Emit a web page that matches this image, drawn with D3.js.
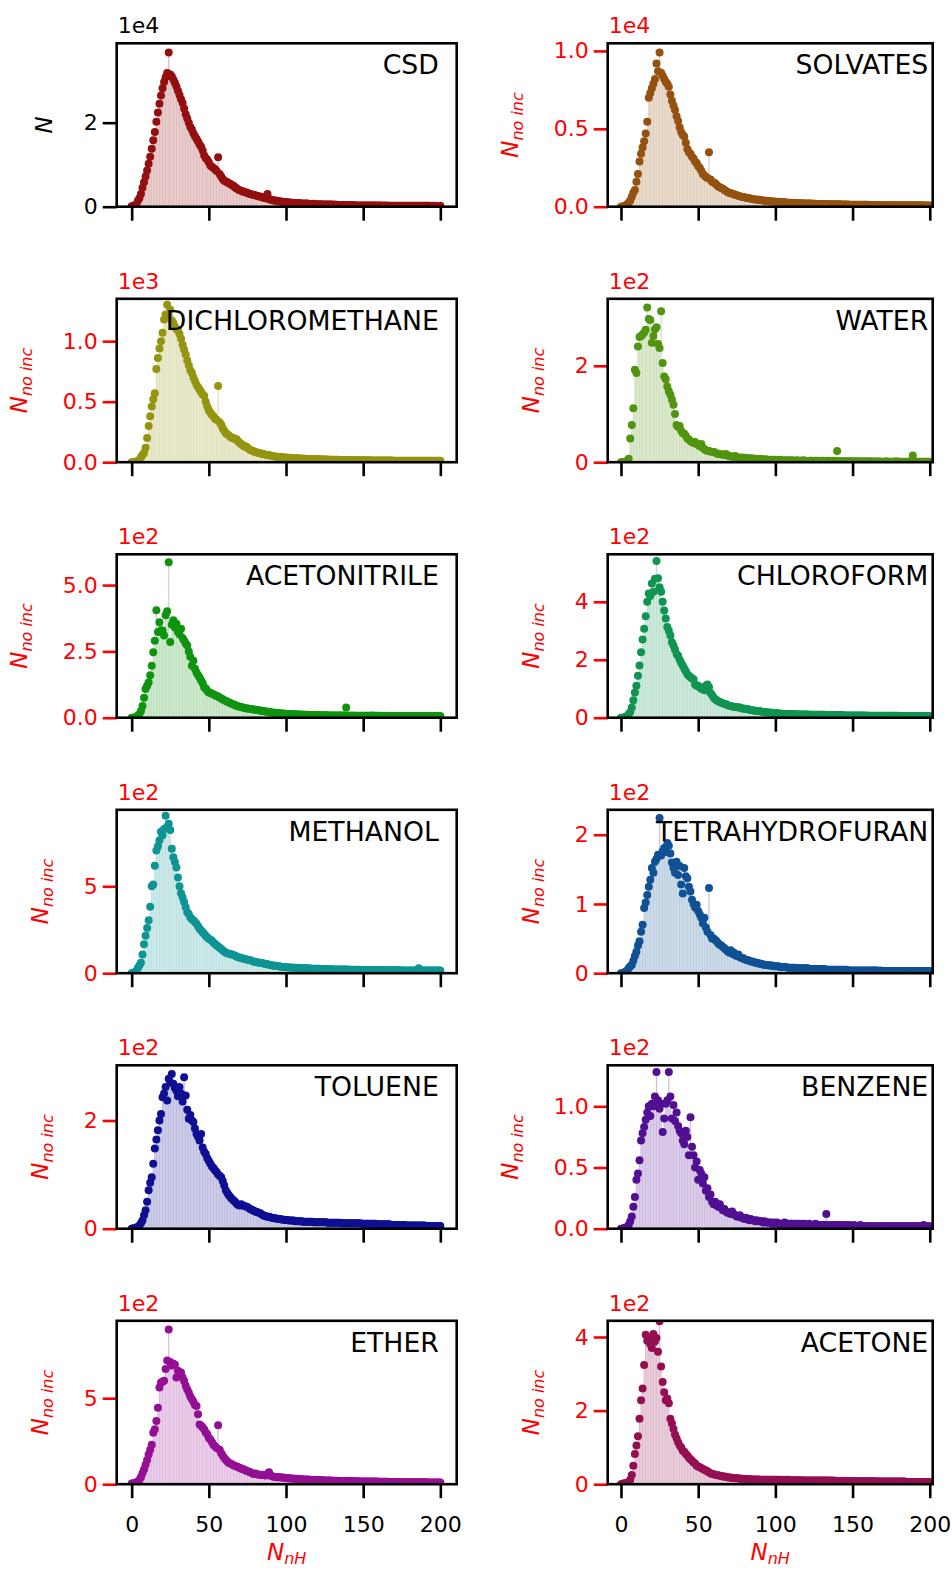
<!DOCTYPE html>
<html>
<head>
<meta charset="utf-8">
<script src="https://cdn.jsdelivr.net/npm/d3@7"></script>
<style>
  body { margin: 0; background: #fff; }
  svg text { font-family: "DejaVu Sans", sans-serif; }
</style>
</head>
<body>
<div id="chart"></div>
<script>
// panel names, colours, axis multipliers and tick values
const names = ['CSD', 'SOLVATES', 'DICHLOROMETHANE', 'WATER', 'ACETONITRILE', 'CHLOROFORM',
  'METHANOL', 'TETRAHYDROFURAN', 'TOLUENE', 'BENZENE', 'ETHER', 'ACETONE'];
const colors = ['#940f0f', '#94510f', '#94940f', '#51940f', '#0f940f', '#0f9451',
  '#0f9494', '#0f5194', '#0f0f94', '#510f94', '#940f94', '#940f51'];
const exponents = [4, 4, 3, 2, 2, 2, 2, 2, 2, 2, 2, 2];
const yTops = [3.89, 1.049, 1.35, 3.39, 6.16, 5.64, 9.4, 2.36, 3.02, 1.335, 9.5, 4.44];
const yTicks = [[0, 2], [0, 0.5, 1], [0, 0.5, 1], [0, 2], [0, 2.5, 5], [0, 2, 4],
  [0, 5], [0, 1, 2], [0, 2], [0, 0.5, 1], [0, 5], [0, 2, 4]];
const xTicks = [0, 50, 100, 150, 200];

// counts per N_nH = 0..200, in units of 10^exponent
const csd = [
  0.01, 0.02, 0.03, 0.06, 0.14, 0.2, 0.3, 0.45, 0.58, 0.72,
  0.86, 1.02, 1.19, 1.38, 1.58, 1.78, 2.02, 2.24, 2.45, 2.65,
  2.82, 2.97, 3.08, 3.18, 3.67, 3.15, 3.1, 3.03, 2.95, 2.86,
  2.76, 2.66, 2.56, 2.47, 2.34, 2.2, 2.1, 2.0, 1.9, 1.84,
  1.75, 1.68, 1.62, 1.55, 1.48, 1.43, 1.34, 1.22, 1.16, 1.12,
  1.06, 0.98, 0.95, 0.92, 0.89, 0.85, 1.18, 0.78, 0.72, 0.66,
  0.62, 0.6, 0.58, 0.56, 0.54, 0.51, 0.5, 0.46, 0.44, 0.41,
  0.39, 0.38, 0.36, 0.35, 0.34, 0.33, 0.31, 0.3, 0.29, 0.28,
  0.27, 0.26, 0.25, 0.24, 0.23, 0.22, 0.21, 0.2, 0.3, 0.18,
  0.17, 0.16, 0.15, 0.15, 0.14, 0.13, 0.13, 0.12, 0.12, 0.11,
  0.11, 0.1, 0.1, 0.1, 0.09, 0.09, 0.09, 0.08, 0.08, 0.08,
  0.08, 0.07, 0.07, 0.08, 0.07, 0.07, 0.06, 0.06, 0.07, 0.06,
  0.06, 0.06, 0.05, 0.06, 0.05, 0.05, 0.05, 0.05, 0.05, 0.05,
  0.05, 0.04, 0.05, 0.04, 0.04, 0.04, 0.04, 0.04, 0.04, 0.04,
  0.04, 0.04, 0.04, 0.03, 0.04, 0.03, 0.03, 0.03, 0.03, 0.03,
  0.03, 0.03, 0.03, 0.03, 0.03, 0.03, 0.03, 0.03, 0.03, 0.03,
  0.03, 0.03, 0.02, 0.03, 0.02, 0.03, 0.02, 0.02, 0.02, 0.02,
  0.02, 0.02, 0.02, 0.02, 0.02, 0.02, 0.02, 0.02, 0.02, 0.02,
  0.02, 0.02, 0.02, 0.02, 0.02, 0.02, 0.02, 0.02, 0.02, 0.02,
  0.02, 0.02, 0.02, 0.02, 0.01, 0.02, 0.01, 0.02, 0.01, 0.01,
  0.02];
const solvates = [
  0, 0.002, 0.004, 0.008, 0.015, 0.025, 0.04, 0.064, 0.09, 0.107,
  0.16, 0.21, 0.29, 0.34, 0.38, 0.42, 0.47, 0.545, 0.7, 0.73,
  0.76, 0.79, 0.82, 0.92, 0.87, 0.99, 0.86, 0.84, 0.82, 0.8,
  0.79, 0.77, 0.72, 0.68, 0.65, 0.62, 0.58, 0.55, 0.51, 0.48,
  0.46, 0.45, 0.41, 0.37, 0.35, 0.34, 0.32, 0.31, 0.29, 0.28,
  0.26, 0.25, 0.23, 0.21, 0.2, 0.19, 0.185, 0.35, 0.175, 0.16,
  0.155, 0.15, 0.14, 0.13, 0.125, 0.12, 0.115, 0.107, 0.1, 0.095,
  0.09, 0.087, 0.085, 0.08, 0.076, 0.073, 0.07, 0.067, 0.064, 0.062,
  0.06, 0.058, 0.056, 0.054, 0.052, 0.05, 0.048, 0.047, 0.046, 0.045,
  0.043, 0.042, 0.04, 0.039, 0.038, 0.037, 0.036, 0.035, 0.034, 0.033,
  0.032, 0.031, 0.03, 0.03, 0.029, 0.028, 0.028, 0.027, 0.026, 0.026,
  0.025, 0.025, 0.024, 0.024, 0.023, 0.023, 0.022, 0.022, 0.021, 0.021,
  0.021, 0.02, 0.02, 0.02, 0.019, 0.019, 0.019, 0.018, 0.018, 0.018,
  0.017, 0.017, 0.017, 0.017, 0.016, 0.016, 0.016, 0.016, 0.015, 0.015,
  0.015, 0.015, 0.015, 0.014, 0.014, 0.014, 0.014, 0.014, 0.013, 0.013,
  0.013, 0.013, 0.013, 0.013, 0.012, 0.012, 0.012, 0.012, 0.012, 0.012,
  0.012, 0.011, 0.011, 0.011, 0.011, 0.011, 0.011, 0.011, 0.011, 0.01,
  0.01, 0.01, 0.01, 0.01, 0.01, 0.01, 0.01, 0.01, 0.01, 0.01,
  0.01, 0.01, 0.01, 0.009, 0.01, 0.009, 0.009, 0.01, 0.009, 0.009,
  0.009, 0.009, 0.009, 0.009, 0.009, 0.008, 0.009, 0.008, 0.008, 0.008,
  0.008];
const dichloromethane = [
  0, 0, 0, 0.005, 0.01, 0.02, 0.04, 0.06, 0.075, 0.12,
  0.2, 0.3, 0.38, 0.46, 0.52, 0.57, 0.77, 0.86, 0.94, 1.0,
  1.07, 1.18, 1.22, 1.3, 1.21, 1.26, 1.17, 1.15, 1.12, 1.1,
  1.09, 1.06, 1.02, 0.97, 0.93, 0.89, 0.84, 0.8, 0.76, 0.74,
  0.7, 0.67, 0.64, 0.62, 0.6, 0.58, 0.56, 0.55, 0.5, 0.46,
  0.43, 0.41, 0.39, 0.38, 0.36, 0.35, 0.63, 0.33, 0.31, 0.28,
  0.26, 0.24, 0.23, 0.22, 0.21, 0.2, 0.2, 0.19, 0.19, 0.17,
  0.16, 0.15, 0.14, 0.13, 0.13, 0.12, 0.11, 0.1, 0.095, 0.09,
  0.085, 0.08, 0.078, 0.075, 0.07, 0.068, 0.065, 0.062, 0.06, 0.058,
  0.055, 0.052, 0.05, 0.048, 0.046, 0.045, 0.043, 0.042, 0.04, 0.039,
  0.038, 0.037, 0.036, 0.035, 0.034, 0.033, 0.033, 0.032, 0.031, 0.03,
  0.03, 0.029, 0.028, 0.028, 0.027, 0.027, 0.026, 0.026, 0.025, 0.025,
  0.024, 0.024, 0.024, 0.023, 0.023, 0.022, 0.022, 0.022, 0.021, 0.021,
  0.021, 0.02, 0.02, 0.02, 0.02, 0.019, 0.019, 0.019, 0.019, 0.018,
  0.018, 0.018, 0.018, 0.018, 0.017, 0.017, 0.017, 0.017, 0.017, 0.016,
  0.016, 0.016, 0.016, 0.016, 0.016, 0.015, 0.015, 0.015, 0.015, 0.015,
  0.015, 0.015, 0.014, 0.014, 0.014, 0.014, 0.014, 0.014, 0.014, 0.014,
  0.013, 0.013, 0.013, 0.013, 0.013, 0.013, 0.013, 0.013, 0.013, 0.012,
  0.012, 0.012, 0.012, 0.012, 0.012, 0.012, 0.012, 0.012, 0.012, 0.012,
  0.011, 0.011, 0.011, 0.011, 0.011, 0.011, 0.011, 0.011, 0.011, 0.011,
  0.011];
const water = [
  0, 0, 0, 0.01, 0.03, 0.07, 0.49, 0.77, 1.12, 1.92,
  1.85, 2.4, 2.6, 2.62, 2.65, 2.69, 2.75, 3.21, 2.97, 2.95,
  2.48, 2.62, 2.76, 2.8, 2.45, 2.37, 3.13, 2.06, 1.78, 1.72,
  1.57, 1.47, 1.4, 1.3, 1.19, 1.0, 0.77, 0.73, 0.75, 0.65,
  0.6, 0.59, 0.55, 0.49, 0.47, 0.44, 0.42, 0.4, 0.42, 0.38,
  0.36, 0.33, 0.38, 0.3, 0.27, 0.25, 0.24, 0.23, 0.22, 0.21,
  0.21, 0.2, 0.18, 0.17, 0.17, 0.16, 0.16, 0.15, 0.17, 0.14,
  0.13, 0.12, 0.12, 0.11, 0.13, 0.1, 0.1, 0.09, 0.1, 0.09,
  0.08, 0.09, 0.07, 0.08, 0.07, 0.08, 0.06, 0.07, 0.06, 0.06,
  0.07, 0.05, 0.06, 0.05, 0.06, 0.05, 0.04, 0.05, 0.05, 0.04,
  0.05, 0.04, 0.04, 0.05, 0.04, 0.03, 0.04, 0.04, 0.03, 0.04,
  0.03, 0.04, 0.03, 0.03, 0.04, 0.03, 0.03, 0.03, 0.04, 0.03,
  0.03, 0.02, 0.03, 0.03, 0.03, 0.02, 0.03, 0.03, 0.02, 0.03,
  0.02, 0.03, 0.02, 0.02, 0.03, 0.02, 0.02, 0.02, 0.03, 0.02,
  0.23, 0.02, 0.02, 0.02, 0.02, 0.02, 0.02, 0.01, 0.02, 0.02,
  0.02, 0.01, 0.02, 0.02, 0.01, 0.02, 0.01, 0.02, 0.01, 0.02,
  0.01, 0.02, 0.01, 0.01, 0.02, 0.01, 0.01, 0.02, 0.01, 0.01,
  0.01, 0.01, 0.02, 0.01, 0.01, 0.01, 0.01, 0.01, 0.02, 0.01,
  0.01, 0.01, 0.01, 0.01, 0.01, 0.01, 0.01, 0.01, 0.01, 0.14,
  0.01, 0.01, 0.01, 0.01, 0.01, 0.01, 0.01, 0.01, 0.01, 0.01,
  0.01];
const acetonitrile = [
  0, 0, 0.01, 0.03, 0.08, 0.13, 0.25, 0.44, 0.75, 1.08,
  1.2, 1.33, 1.6, 1.96, 2.47, 2.9, 4.05, 3.23, 3.6, 3.3,
  3.29, 3.1, 3.86, 4.01, 5.86, 2.85, 3.5, 3.67, 3.4, 3.54,
  3.23, 3.15, 3.35, 3.0, 2.91, 2.8, 2.72, 2.5, 2.3, 1.96,
  2.15, 1.85, 1.7, 1.6, 1.52, 1.4, 1.3, 1.14, 1.1, 1.02,
  0.95, 0.93, 0.9, 0.88, 0.85, 0.82, 0.8, 0.76, 0.72, 0.7,
  0.66, 0.63, 0.6, 0.57, 0.55, 0.52, 0.5, 0.48, 0.44, 0.43,
  0.41, 0.4, 0.38, 0.37, 0.36, 0.35, 0.34, 0.33, 0.32, 0.31,
  0.3, 0.29, 0.28, 0.27, 0.26, 0.25, 0.24, 0.23, 0.22, 0.22,
  0.21, 0.2, 0.19, 0.19, 0.18, 0.17, 0.17, 0.16, 0.16, 0.15,
  0.15, 0.14, 0.14, 0.14, 0.13, 0.13, 0.13, 0.12, 0.12, 0.12,
  0.12, 0.11, 0.11, 0.11, 0.11, 0.1, 0.1, 0.1, 0.1, 0.1,
  0.1, 0.09, 0.09, 0.09, 0.09, 0.09, 0.09, 0.09, 0.08, 0.08,
  0.08, 0.08, 0.08, 0.08, 0.08, 0.08, 0.08, 0.08, 0.08, 0.38,
  0.08, 0.07, 0.07, 0.08, 0.07, 0.07, 0.07, 0.07, 0.07, 0.07,
  0.07, 0.07, 0.07, 0.07, 0.07, 0.07, 0.08, 0.07, 0.07, 0.07,
  0.07, 0.06, 0.07, 0.06, 0.07, 0.06, 0.06, 0.06, 0.06, 0.06,
  0.06, 0.06, 0.06, 0.06, 0.06, 0.06, 0.06, 0.06, 0.06, 0.06,
  0.06, 0.06, 0.06, 0.06, 0.06, 0.06, 0.06, 0.06, 0.06, 0.06,
  0.06, 0.06, 0.06, 0.06, 0.06, 0.06, 0.06, 0.06, 0.06, 0.06,
  0.06];
const chloroform = [
  0, 0, 0.01, 0.03, 0.06, 0.12, 0.2, 0.35, 0.6, 0.87,
  1.1, 1.45, 1.8, 2.26, 2.7, 3.07, 3.5, 4.0, 4.29, 4.2,
  4.63, 4.35, 4.8, 5.41, 4.81, 4.5, 4.35, 4.0, 3.7, 3.42,
  3.13, 3.0, 2.84, 2.6, 2.49, 2.35, 2.2, 2.14, 2.0, 1.9,
  1.8, 1.7, 1.6, 1.5, 1.45, 1.4, 1.35, 1.33, 1.15, 1.1,
  1.1, 1.05, 1.0, 0.98, 0.95, 1.1, 1.15, 1.05, 0.85, 0.78,
  0.7, 0.64, 0.6, 0.57, 0.54, 0.52, 0.5, 0.47, 0.46, 0.44,
  0.41, 0.4, 0.39, 0.38, 0.37, 0.36, 0.36, 0.35, 0.33, 0.32,
  0.31, 0.3, 0.29, 0.28, 0.27, 0.26, 0.25, 0.24, 0.23, 0.23,
  0.22, 0.21, 0.2, 0.2, 0.19, 0.18, 0.18, 0.17, 0.17, 0.16,
  0.15, 0.15, 0.15, 0.14, 0.14, 0.14, 0.13, 0.13, 0.13, 0.13,
  0.12, 0.12, 0.12, 0.12, 0.12, 0.11, 0.11, 0.11, 0.11, 0.11,
  0.11, 0.11, 0.1, 0.1, 0.1, 0.1, 0.1, 0.1, 0.1, 0.1,
  0.1, 0.1, 0.1, 0.09, 0.09, 0.09, 0.09, 0.09, 0.09, 0.09,
  0.09, 0.09, 0.09, 0.09, 0.09, 0.08, 0.08, 0.08, 0.08, 0.08,
  0.08, 0.08, 0.08, 0.08, 0.08, 0.08, 0.08, 0.08, 0.07, 0.08,
  0.07, 0.07, 0.07, 0.07, 0.07, 0.07, 0.07, 0.07, 0.07, 0.07,
  0.07, 0.07, 0.07, 0.07, 0.07, 0.07, 0.07, 0.07, 0.07, 0.07,
  0.06, 0.07, 0.06, 0.06, 0.06, 0.06, 0.06, 0.06, 0.06, 0.06,
  0.06, 0.06, 0.06, 0.06, 0.06, 0.06, 0.06, 0.06, 0.06, 0.06,
  0.06];
const methanol = [
  0, 0.02, 0.05, 0.12, 0.3, 0.45, 0.6, 1.08, 1.67, 2.16,
  2.6, 3.04, 3.82, 5.0, 5.1, 6.18, 7.06, 7.3, 7.65, 8.14,
  7.94, 8.3, 9.06, 8.43, 8.6, 8.24, 7.16, 6.67, 6.4, 6.08,
  5.5, 5.0, 4.6, 4.35, 4.1, 3.8, 3.5, 3.4, 3.2, 3.1,
  3.04, 2.95, 2.84, 2.7, 2.55, 2.45, 2.35, 2.25, 2.16, 2.05,
  1.98, 1.92, 1.86, 1.75, 1.7, 1.6, 1.54, 1.47, 1.4, 1.3,
  1.25, 1.18, 1.15, 1.12, 1.1, 1.08, 1.04, 1.0, 0.96, 0.92,
  0.9, 0.88, 0.85, 0.82, 0.8, 0.78, 0.76, 0.74, 0.7, 0.67,
  0.65, 0.63, 0.62, 0.6, 0.59, 0.57, 0.55, 0.53, 0.52, 0.48,
  0.47, 0.45, 0.44, 0.42, 0.41, 0.4, 0.38, 0.37, 0.36, 0.35,
  0.34, 0.34, 0.33, 0.33, 0.32, 0.32, 0.31, 0.31, 0.3, 0.3,
  0.29, 0.29, 0.28, 0.28, 0.28, 0.27, 0.27, 0.26, 0.26, 0.26,
  0.25, 0.25, 0.25, 0.24, 0.24, 0.24, 0.24, 0.23, 0.23, 0.23,
  0.23, 0.22, 0.22, 0.22, 0.22, 0.22, 0.21, 0.21, 0.21, 0.21,
  0.21, 0.2, 0.2, 0.2, 0.2, 0.2, 0.2, 0.2, 0.19, 0.19,
  0.19, 0.19, 0.19, 0.19, 0.19, 0.19, 0.18, 0.19, 0.18, 0.18,
  0.18, 0.18, 0.18, 0.18, 0.18, 0.17, 0.17, 0.17, 0.17, 0.17,
  0.17, 0.17, 0.17, 0.17, 0.17, 0.16, 0.16, 0.16, 0.16, 0.16,
  0.16, 0.16, 0.16, 0.16, 0.16, 0.16, 0.29, 0.16, 0.15, 0.15,
  0.15, 0.15, 0.15, 0.15, 0.15, 0.15, 0.15, 0.15, 0.15, 0.15,
  0.15];
const tetrahydrofuran = [
  0, 0, 0.01, 0.02, 0.04, 0.07, 0.1, 0.12, 0.18, 0.25,
  0.31, 0.4, 0.46, 0.6, 0.7, 0.94, 1.02, 1.13, 1.25, 1.35,
  1.52, 1.45, 1.61, 1.65, 1.71, 2.24, 1.7, 1.76, 1.81, 1.75,
  1.88, 1.84, 1.73, 1.6, 1.52, 1.45, 1.61, 1.42, 1.55, 1.28,
  1.15, 1.52, 1.4, 1.37, 1.25, 1.18, 1.06, 1.0, 0.95, 0.99,
  0.9, 0.85, 0.8, 0.72, 0.8, 0.66, 0.6, 1.23, 0.55, 0.5,
  0.5, 0.48, 0.46, 0.43, 0.41, 0.4, 0.38, 0.36, 0.34, 0.32,
  0.3, 0.33, 0.28, 0.3, 0.26, 0.25, 0.27, 0.23, 0.22, 0.22,
  0.2, 0.19, 0.19, 0.18, 0.17, 0.17, 0.16, 0.15, 0.15, 0.14,
  0.14, 0.13, 0.13, 0.12, 0.12, 0.12, 0.11, 0.11, 0.11, 0.1,
  0.1, 0.1, 0.1, 0.09, 0.09, 0.09, 0.09, 0.09, 0.08, 0.08,
  0.08, 0.08, 0.08, 0.08, 0.07, 0.07, 0.07, 0.07, 0.07, 0.07,
  0.07, 0.07, 0.06, 0.06, 0.06, 0.06, 0.06, 0.06, 0.06, 0.06,
  0.06, 0.06, 0.06, 0.05, 0.05, 0.05, 0.05, 0.05, 0.05, 0.05,
  0.05, 0.05, 0.05, 0.05, 0.05, 0.05, 0.05, 0.04, 0.04, 0.04,
  0.04, 0.04, 0.04, 0.04, 0.04, 0.04, 0.04, 0.04, 0.04, 0.04,
  0.04, 0.04, 0.04, 0.04, 0.04, 0.04, 0.04, 0.03, 0.04, 0.03,
  0.03, 0.03, 0.03, 0.03, 0.03, 0.03, 0.03, 0.03, 0.03, 0.03,
  0.03, 0.03, 0.03, 0.03, 0.03, 0.03, 0.03, 0.03, 0.03, 0.03,
  0.03, 0.03, 0.03, 0.03, 0.03, 0.03, 0.03, 0.03, 0.03, 0.03,
  0.03];
const toluene = [
  0, 0.01, 0.01, 0.02, 0.03, 0.06, 0.1, 0.15, 0.25, 0.34,
  0.5, 0.71, 0.85, 0.95, 1.2, 1.48, 1.65, 1.82, 2.0, 2.12,
  2.43, 2.5, 2.62, 2.37, 2.77, 2.7, 2.86, 2.68, 2.6, 2.55,
  2.45, 2.62, 2.5, 2.35, 2.8, 2.46, 2.2, 2.03, 2.1, 2.0,
  1.97, 1.85, 1.75, 1.7, 1.63, 1.75, 1.5, 1.42, 1.38, 1.3,
  1.25, 1.2, 1.15, 1.12, 1.08, 1.05, 1.0, 0.98, 0.95, 0.88,
  0.8, 0.71, 0.66, 0.62, 0.58, 0.55, 0.52, 0.5, 0.46, 0.44,
  0.43, 0.45, 0.43, 0.42, 0.41, 0.4, 0.38, 0.36, 0.35, 0.33,
  0.32, 0.31, 0.3, 0.29, 0.27, 0.25, 0.24, 0.23, 0.22, 0.22,
  0.21, 0.2, 0.2, 0.19, 0.19, 0.18, 0.18, 0.17, 0.17, 0.16,
  0.16, 0.16, 0.15, 0.15, 0.15, 0.15, 0.14, 0.14, 0.14, 0.14,
  0.14, 0.13, 0.13, 0.13, 0.13, 0.13, 0.13, 0.13, 0.12, 0.12,
  0.12, 0.12, 0.12, 0.12, 0.12, 0.12, 0.12, 0.11, 0.11, 0.11,
  0.11, 0.11, 0.11, 0.11, 0.11, 0.11, 0.1, 0.1, 0.1, 0.1,
  0.1, 0.1, 0.1, 0.1, 0.1, 0.1, 0.1, 0.1, 0.1, 0.09,
  0.09, 0.09, 0.09, 0.09, 0.09, 0.09, 0.09, 0.09, 0.09, 0.08,
  0.08, 0.08, 0.08, 0.08, 0.08, 0.08, 0.08, 0.08, 0.07, 0.07,
  0.07, 0.07, 0.07, 0.07, 0.07, 0.07, 0.07, 0.07, 0.06, 0.06,
  0.06, 0.06, 0.06, 0.06, 0.06, 0.06, 0.06, 0.06, 0.06, 0.06,
  0.06, 0.05, 0.05, 0.05, 0.05, 0.05, 0.05, 0.05, 0.05, 0.05,
  0.05];
const benzene = [
  0, 0, 0.005, 0.01, 0.01, 0.03, 0.06, 0.1, 0.18, 0.26,
  0.4, 0.45, 0.56, 0.72, 0.78, 0.83, 0.89, 0.95, 1.0, 0.92,
  1.02, 1.0, 1.08, 1.28, 1.05, 0.98, 1.02, 0.79, 0.9, 1.02,
  1.05, 1.28, 1.08, 0.9, 1.01, 0.88, 0.95, 0.84, 0.8, 0.78,
  0.72, 0.69, 0.8, 0.75, 0.6, 0.91, 0.67, 0.6, 0.5, 0.55,
  0.4, 0.48, 0.45, 0.37, 0.42, 0.31, 0.33, 0.26, 0.28, 0.22,
  0.2, 0.22, 0.19, 0.18, 0.2, 0.17, 0.15, 0.16, 0.14, 0.13,
  0.13, 0.12, 0.14, 0.12, 0.11, 0.1, 0.1, 0.11, 0.09, 0.09,
  0.08, 0.09, 0.08, 0.07, 0.08, 0.07, 0.07, 0.06, 0.07, 0.06,
  0.06, 0.06, 0.05, 0.06, 0.05, 0.05, 0.05, 0.05, 0.04, 0.05,
  0.04, 0.05, 0.04, 0.04, 0.04, 0.04, 0.05, 0.04, 0.04, 0.04,
  0.04, 0.04, 0.04, 0.03, 0.04, 0.04, 0.03, 0.04, 0.03, 0.04,
  0.03, 0.03, 0.04, 0.03, 0.03, 0.03, 0.04, 0.03, 0.03, 0.03,
  0.03, 0.03, 0.03, 0.12, 0.03, 0.03, 0.03, 0.02, 0.03, 0.03,
  0.03, 0.03, 0.02, 0.03, 0.03, 0.02, 0.03, 0.02, 0.03, 0.02,
  0.02, 0.03, 0.02, 0.02, 0.02, 0.03, 0.02, 0.02, 0.02, 0.02,
  0.02, 0.02, 0.02, 0.02, 0.02, 0.02, 0.02, 0.02, 0.02, 0.02,
  0.02, 0.02, 0.02, 0.02, 0.02, 0.02, 0.02, 0.02, 0.02, 0.02,
  0.02, 0.02, 0.02, 0.02, 0.02, 0.02, 0.02, 0.02, 0.02, 0.02,
  0.02, 0.02, 0.02, 0.02, 0.02, 0.02, 0.03, 0.02, 0.02, 0.02,
  0.02];
const ether = [
  0.04, 0.05, 0.06, 0.1, 0.15, 0.25, 0.4, 0.64, 0.85, 1.13,
  1.4, 1.72, 2.0, 2.3, 2.99, 3.2, 3.67, 4.45, 5.62, 5.92,
  5.95, 6.01, 6.7, 7.19, 9.0, 7.1, 6.9, 7.0, 6.95, 6.21,
  6.6, 6.4, 6.5, 6.21, 6.0, 5.72, 5.5, 5.33, 5.1, 4.94,
  4.8, 4.6, 4.55, 4.06, 3.47, 3.4, 3.3, 3.18, 3.0, 2.9,
  2.69, 2.6, 2.45, 2.3, 2.2, 2.1, 3.43, 2.0, 1.8, 1.65,
  1.52, 1.42, 1.32, 1.23, 1.2, 1.15, 1.1, 1.06, 1.03, 0.98,
  0.95, 0.9, 0.88, 0.84, 0.8, 0.76, 0.72, 0.7, 0.64, 0.6,
  0.62, 0.58, 0.56, 0.55, 0.54, 0.55, 0.52, 0.5, 0.58, 0.7,
  0.5, 0.46, 0.44, 0.42, 0.41, 0.4, 0.4, 0.39, 0.39, 0.37,
  0.36, 0.35, 0.34, 0.33, 0.33, 0.32, 0.31, 0.31, 0.3, 0.29,
  0.29, 0.28, 0.28, 0.27, 0.27, 0.26, 0.26, 0.25, 0.25, 0.25,
  0.24, 0.24, 0.23, 0.23, 0.23, 0.22, 0.22, 0.22, 0.21, 0.21,
  0.2, 0.2, 0.2, 0.2, 0.19, 0.19, 0.19, 0.19, 0.18, 0.18,
  0.18, 0.18, 0.18, 0.17, 0.17, 0.17, 0.17, 0.17, 0.16, 0.16,
  0.16, 0.16, 0.16, 0.16, 0.15, 0.15, 0.15, 0.15, 0.15, 0.15,
  0.14, 0.14, 0.14, 0.14, 0.14, 0.14, 0.14, 0.13, 0.13, 0.13,
  0.13, 0.13, 0.13, 0.13, 0.12, 0.12, 0.12, 0.12, 0.12, 0.12,
  0.12, 0.12, 0.11, 0.11, 0.11, 0.11, 0.11, 0.11, 0.11, 0.11,
  0.11, 0.11, 0.1, 0.1, 0.1, 0.1, 0.1, 0.1, 0.1, 0.1,
  0.1];
const acetone = [
  0, 0.01, 0.02, 0.03, 0.04, 0.05, 0.12, 0.25, 0.5, 0.82,
  1.05, 1.3, 1.78, 2.28, 2.6, 3.24, 4.06, 3.9, 3.97, 3.8,
  3.7, 4.08, 3.88, 3.97, 3.6, 4.43, 3.2, 2.78, 2.5, 2.28,
  2.33, 2.2, 1.78, 1.65, 1.5, 1.35, 1.25, 1.14, 1.05, 1.0,
  0.91, 0.88, 0.82, 0.78, 0.72, 0.68, 0.64, 0.59, 0.56, 0.5,
  0.48, 0.46, 0.44, 0.41, 0.39, 0.37, 0.35, 0.32, 0.3, 0.28,
  0.27, 0.26, 0.25, 0.24, 0.23, 0.22, 0.21, 0.21, 0.2, 0.19,
  0.18, 0.18, 0.17, 0.17, 0.16, 0.16, 0.16, 0.15, 0.15, 0.15,
  0.14, 0.14, 0.14, 0.14, 0.13, 0.13, 0.13, 0.13, 0.13, 0.13,
  0.12, 0.12, 0.12, 0.12, 0.12, 0.12, 0.12, 0.12, 0.12, 0.12,
  0.12, 0.12, 0.12, 0.11, 0.12, 0.11, 0.11, 0.12, 0.12, 0.11,
  0.11, 0.11, 0.11, 0.11, 0.11, 0.11, 0.1, 0.11, 0.1, 0.1,
  0.1, 0.1, 0.1, 0.1, 0.1, 0.1, 0.1, 0.1, 0.1, 0.1,
  0.1, 0.1, 0.1, 0.1, 0.1, 0.1, 0.1, 0.09, 0.1, 0.09,
  0.09, 0.09, 0.09, 0.09, 0.09, 0.09, 0.09, 0.09, 0.09, 0.09,
  0.09, 0.09, 0.08, 0.08, 0.08, 0.08, 0.08, 0.08, 0.08, 0.08,
  0.08, 0.08, 0.08, 0.08, 0.08, 0.08, 0.08, 0.07, 0.07, 0.07,
  0.07, 0.07, 0.07, 0.07, 0.07, 0.07, 0.07, 0.07, 0.07, 0.07,
  0.07, 0.07, 0.07, 0.07, 0.07, 0.06, 0.06, 0.06, 0.06, 0.06,
  0.06, 0.06, 0.06, 0.06, 0.06, 0.06, 0.06, 0.06, 0.06, 0.06,
  0.06];

const series = [csd, solvates, dichloromethane, water, acetonitrile, chloroform,
  methanol, tetrahydrofuran, toluene, benzene, ether, acetone];

const W = 952, H = 1575;
const rowTop = 43.3, rowStep = 255.5, plotH = 163.4;
const cols = [
  { left: 116.7, right: 456.7, domain: [-9.7, 210.6] },
  { left: 607.7, right: 932.7, domain: [-8.6, 201.9] }
];
const tickFont = '22px', titleFont = '26.7px', labelFont = '23px', subFont = '16px';

const svg = d3.select('#chart')
  .append('svg')
  .attr('width', W)
  .attr('height', H);

const defs = svg.append('defs');

names.forEach((name, i) => {
  const row = Math.floor(i / 2);
  const col = cols[i % 2];
  const top = rowTop + row * rowStep;
  const bottom = top + plotH;
  const isLast = row === 5;
  const axisColor = i === 0 ? '#000' : '#ff0000';
  const data = series[i];

  const x = d3.scaleLinear().domain(col.domain).range([col.left, col.right]);
  const y = d3.scaleLinear().domain([0, yTops[i]]).range([bottom, top]);

  defs.append('clipPath').attr('id', 'clip' + i)
    .append('rect')
    .attr('x', col.left).attr('y', top)
    .attr('width', col.right - col.left).attr('height', plotH);

  const g = svg.append('g');
  const plot = g.append('g').attr('clip-path', `url(#clip${i})`);

  // stems
  plot.selectAll('line')
    .data(data)
    .enter()
    .append('line')
    .attr('x1', (d, k) => x(k))
    .attr('x2', (d, k) => x(k))
    .attr('y1', y(0))
    .attr('y2', d => y(d))
    .attr('stroke', colors[i])
    .attr('stroke-opacity', 0.28)
    .attr('stroke-width', 1.3);

  // markers
  plot.selectAll('circle')
    .data(data)
    .enter()
    .append('circle')
    .attr('cx', (d, k) => x(k))
    .attr('cy', d => y(d))
    .attr('r', 4)
    .attr('fill', colors[i]);

  // y axis
  const decimals = yTicks[i].some(v => v % 1 !== 0);
  const yAxis = d3.axisLeft(y)
    .tickValues(yTicks[i])
    .tickSize(14)
    .tickPadding(5)
    .tickFormat(d3.format(decimals ? '.1f' : 'd'));
  const yg = g.append('g')
    .attr('transform', `translate(${col.left},0)`)
    .call(yAxis);
  yg.select('.domain').remove();
  yg.selectAll('.tick line').attr('stroke', axisColor).attr('stroke-width', 2.6);
  yg.selectAll('.tick text')
    .attr('fill', axisColor)
    .style('font-size', tickFont)
    .style('font-family', '"DejaVu Sans", sans-serif');

  // x axis
  const xAxis = d3.axisBottom(x)
    .tickValues(xTicks)
    .tickSize(14)
    .tickPadding(18)
    .tickFormat(isLast ? d3.format('d') : () => '');
  const xg = g.append('g')
    .attr('transform', `translate(0,${bottom})`)
    .call(xAxis);
  xg.select('.domain').remove();
  xg.selectAll('.tick line').attr('stroke', '#000').attr('stroke-width', 2.6);
  xg.selectAll('.tick text')
    .attr('fill', '#000')
    .style('font-size', tickFont)
    .style('font-family', '"DejaVu Sans", sans-serif');

  // frame
  g.append('rect')
    .attr('x', col.left)
    .attr('y', top)
    .attr('width', col.right - col.left)
    .attr('height', plotH)
    .attr('fill', 'none')
    .attr('stroke', '#000')
    .attr('stroke-width', 2.6);

  // panel name
  g.append('text')
    .attr('x', x(199))
    .attr('y', top + 31)
    .attr('text-anchor', 'end')
    .style('font-size', titleFont)
    .attr('fill', '#000')
    .text(name);

  // multiplier
  g.append('text')
    .attr('x', col.left + 1)
    .attr('y', top - 10)
    .style('font-size', tickFont)
    .attr('fill', axisColor)
    .text('1e' + exponents[i]);

  // y label, placed left of the tick labels
  const labelsLeft = d3.min(yg.selectAll('.tick text').nodes(), n => n.getBBox().x) + col.left;
  const yl = g.append('text')
    .attr('transform', `translate(${labelsLeft - (i === 0 ? 32 : 36)},${top + plotH / 2}) rotate(-90)`)
    .attr('text-anchor', 'middle')
    .style('font-size', labelFont)
    .attr('fill', axisColor);
  yl.append('tspan').style('font-style', 'italic').text('N');
  if (i > 0) {
    yl.append('tspan')
      .style('font-style', 'italic')
      .style('font-size', subFont)
      .attr('dy', 5)
      .text('no inc');
  }

  // x label
  if (isLast) {
    const xl = g.append('text')
      .attr('x', (col.left + col.right) / 2)
      .attr('y', bottom + 76)
      .attr('text-anchor', 'middle')
      .style('font-size', labelFont)
      .attr('fill', '#ff0000');
    xl.append('tspan').style('font-style', 'italic').text('N');
    xl.append('tspan')
      .style('font-style', 'italic')
      .style('font-size', subFont)
      .attr('dy', 4)
      .text('nH');
  }
});
</script>
</body>
</html>
